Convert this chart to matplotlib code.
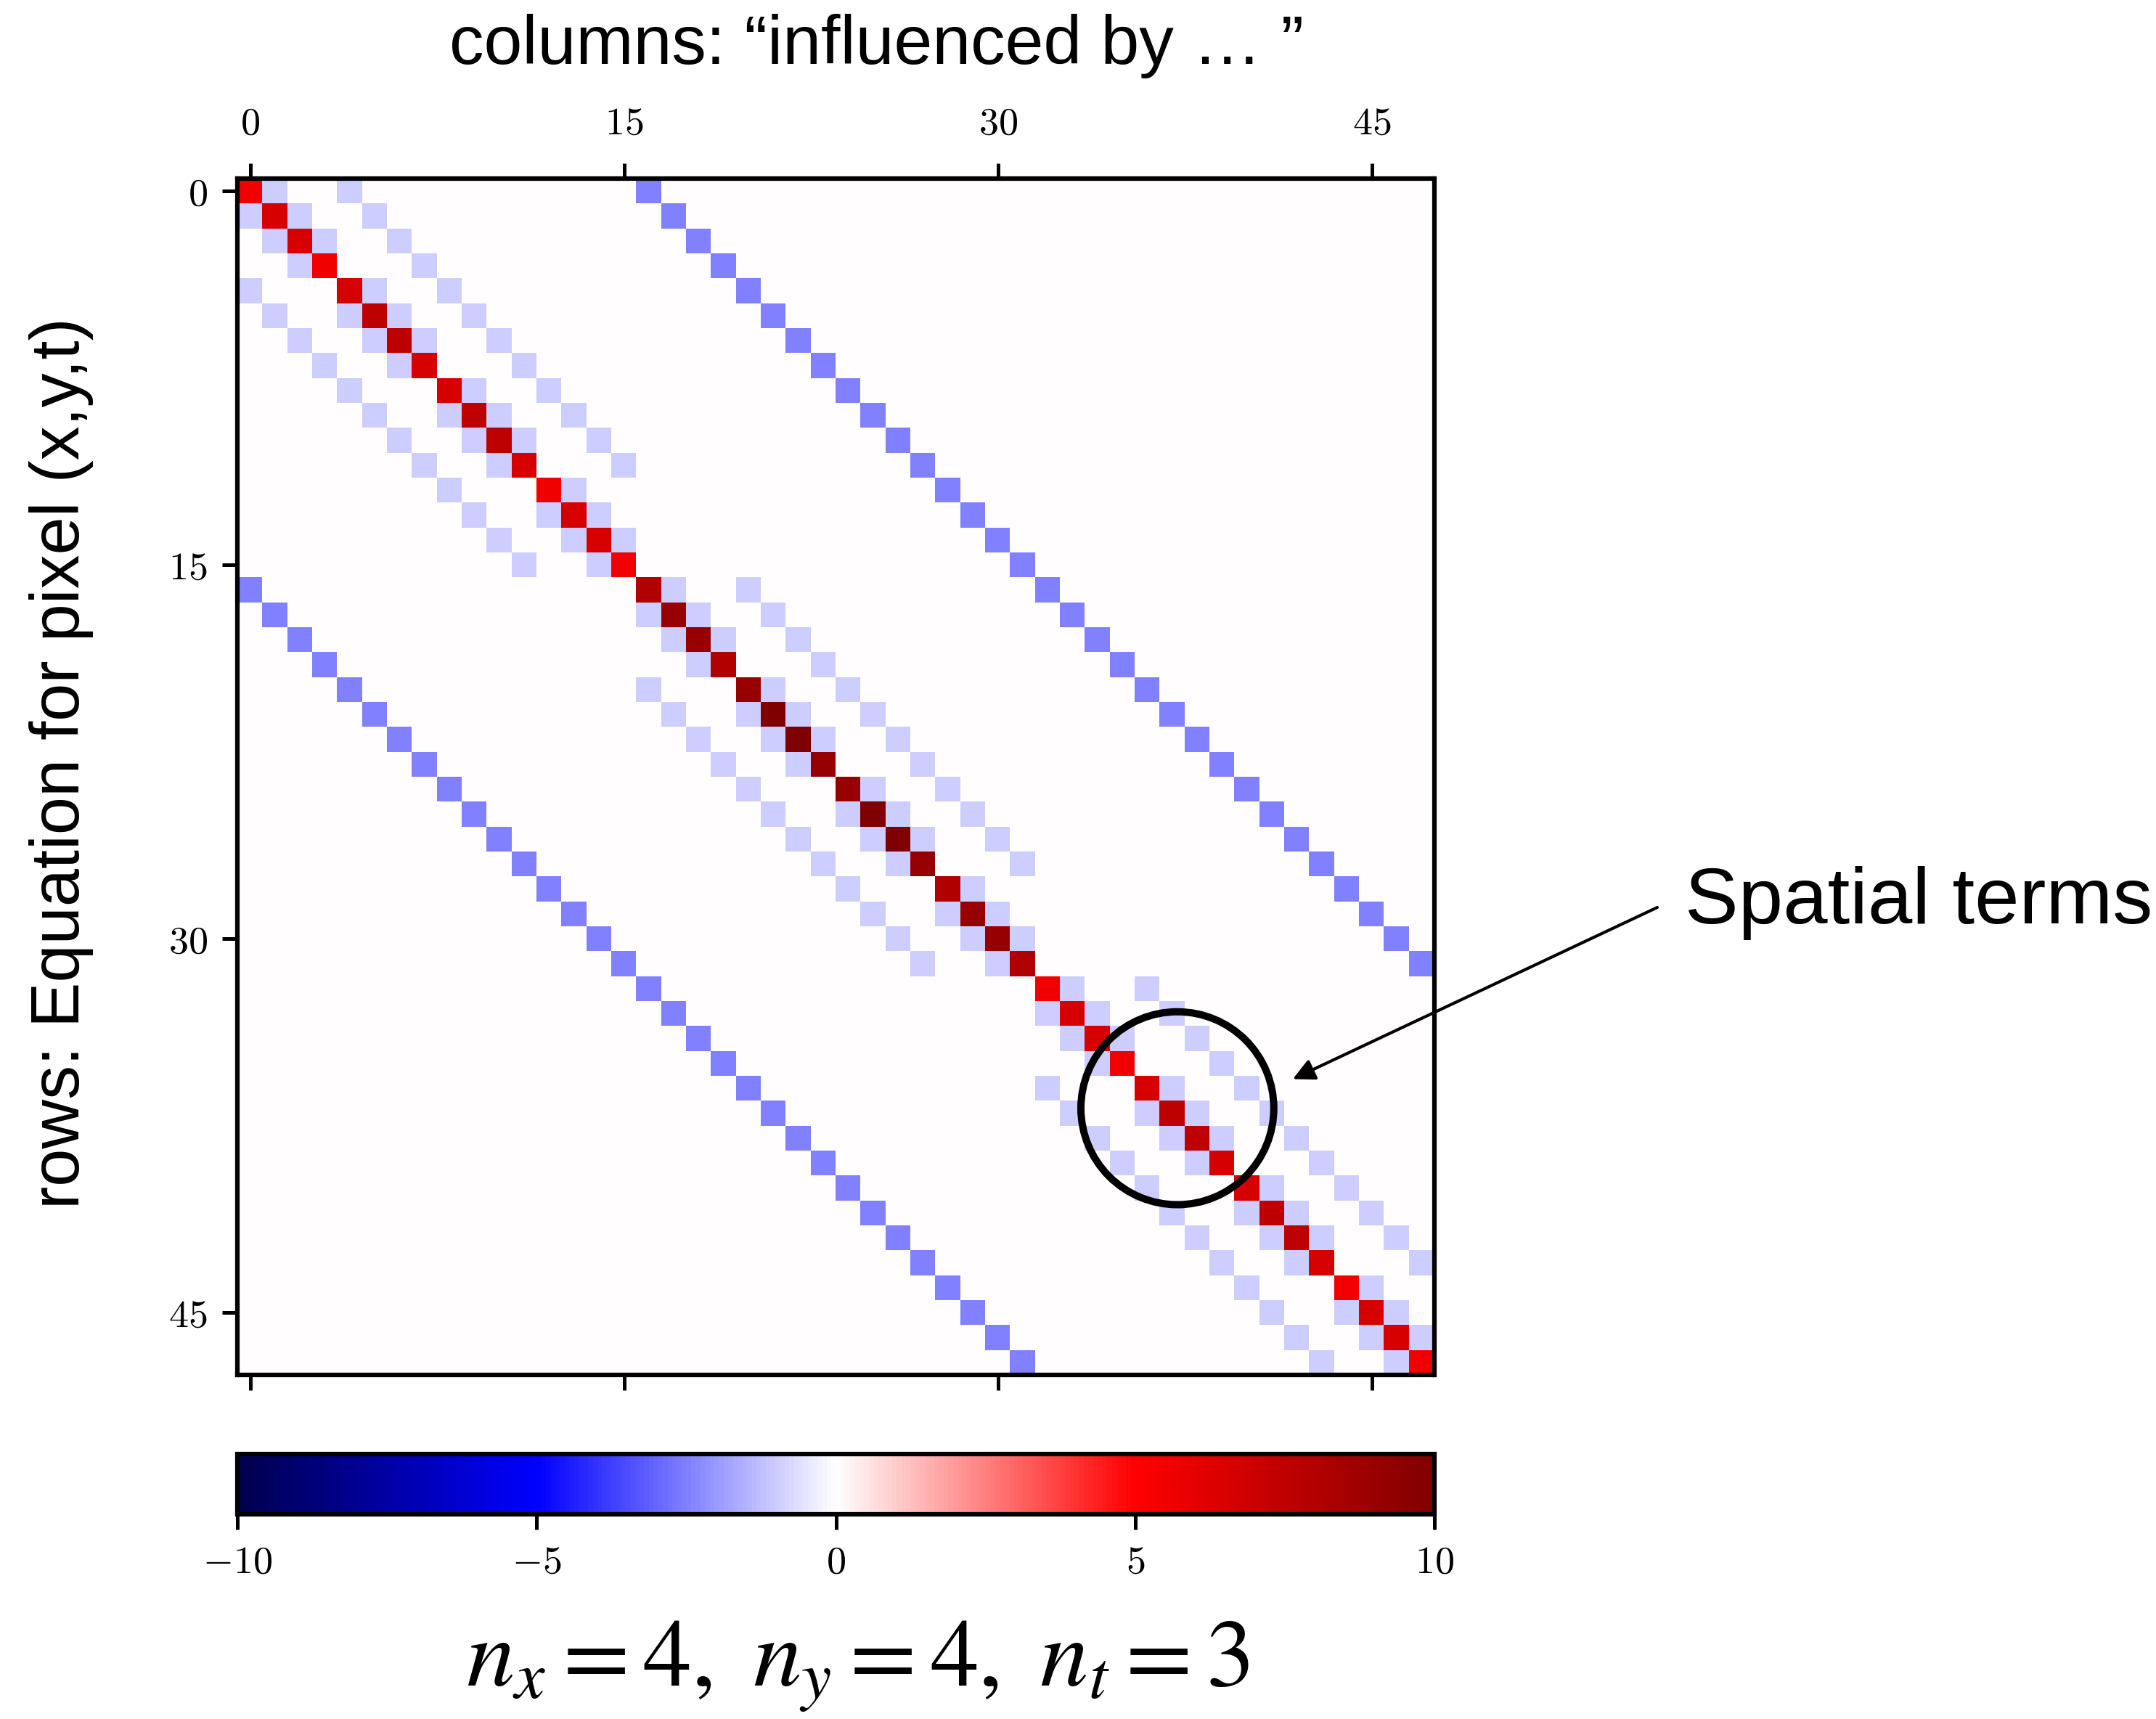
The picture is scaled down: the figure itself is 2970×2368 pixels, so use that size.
import numpy as np
import matplotlib
matplotlib.use("Agg")
import matplotlib.pyplot as plt
from matplotlib.patches import Circle

# Grid of unknowns: one equation per pixel (x, y, t)
nx, ny, nt = 4, 4, 3
spatial_coupling = -1.0    # weight of each x / y neighbour
temporal_coupling = -2.5   # weight of each t neighbour
diag_base = 1.0            # diagonal = base + sum of |neighbour weights|

tick_positions = [0, 15, 30, 45]
cbar_ticks = [-10, -5, 0, 5, 10]
vmin, vmax = -10, 10

title_text = "columns: \u201cinfluenced by \u2026 \u201d"
ylabel_text = "rows: Equation for pixel (x,y,t)"
note_text = "Spatial terms"
grid_text = r"$n_x = 4,\ n_y = 4,\ n_t = 3$"

# Build the system matrix from the stencil
n = nx * ny * nt
A = np.zeros((n, n))


def idx(x, y, t):
    return t * nx * ny + y * nx + x


for t in range(nt):
    for y in range(ny):
        for x in range(nx):
            i = idx(x, y, t)
            for dx, dy, dt, w in [(-1, 0, 0, spatial_coupling), (1, 0, 0, spatial_coupling),
                                  (0, -1, 0, spatial_coupling), (0, 1, 0, spatial_coupling),
                                  (0, 0, -1, temporal_coupling), (0, 0, 1, temporal_coupling)]:
                xx, yy, tt = x + dx, y + dy, t + dt
                if 0 <= xx < nx and 0 <= yy < ny and 0 <= tt < nt:
                    A[i, idx(xx, yy, tt)] = w
            A[i, i] = diag_base - A[i].sum()

plt.rcParams["mathtext.fontset"] = "cm"
plt.rcParams["font.family"] = ["Liberation Sans", "DejaVu Sans"]

W, H = 2970, 2368
dpi = 300
fig = plt.figure(figsize=(W / dpi, H / dpi), dpi=dpi)

ax_l, ax_r, ax_t, ax_b = 327, 1976, 246, 1894
ax = fig.add_axes([ax_l / W, 1 - ax_b / H, (ax_r - ax_l) / W, (ax_b - ax_t) / H])
im = ax.imshow(A, cmap="seismic", vmin=vmin, vmax=vmax, interpolation="nearest")

ax.set_xticks(tick_positions)
ax.set_yticks(tick_positions)
ax.set_xticklabels([f"${v}$" for v in tick_positions])
ax.set_yticklabels([f"${v}$" for v in tick_positions])
ax.tick_params(axis="x", top=True, bottom=True, labeltop=True, labelbottom=False,
               length=5, width=1.2, labelsize=13, pad=7)
ax.tick_params(axis="y", left=True, right=False, length=5, width=1.2, labelsize=13, pad=5)
for s in ax.spines.values():
    s.set_linewidth(1.5)

# Highlight of the spatial neighbour pattern
circ = Circle((37.2, 36.8), 3.87, fill=False, ec="black", lw=2.4, clip_on=False)
ax.add_patch(circ)
ax.annotate("", xy=(41.83, 35.63), xycoords="data",
            xytext=(2283 / W, 1 - 1250 / H), textcoords="figure fraction",
            arrowprops=dict(arrowstyle="-|>", lw=1.0, color="black",
                            mutation_scale=15, shrinkA=0, shrinkB=0),
            annotation_clip=False)
fig.text(2321 / W, 1 - 1272 / H, note_text, fontsize=26.5, ha="left", va="baseline")

# Colorbar
cb_t, cb_b = 2003, 2086
cax = fig.add_axes([ax_l / W, 1 - cb_b / H, (ax_r - ax_l) / W, (cb_b - cb_t) / H])
cb = fig.colorbar(im, cax=cax, orientation="horizontal")
cb.set_ticks(cbar_ticks)
cb.set_ticklabels([f"${v}$" for v in cbar_ticks])
cb.outline.set_linewidth(1.5)
cax.tick_params(length=5, width=1.2, labelsize=13, pad=5)

# Labels
fig.text(1208 / W, 1 - 88 / H, title_text, fontsize=22.8, ha="center", va="baseline")
fig.text(85 / W, 1 - 1051 / H, ylabel_text, fontsize=22.5, ha="center", va="center",
         rotation=90)
fig.text(1181 / W, 1 - 2322 / H, grid_text, fontsize=32, ha="center", va="baseline",
         math_fontfamily="stix")

fig.savefig("out.png", dpi=dpi)
